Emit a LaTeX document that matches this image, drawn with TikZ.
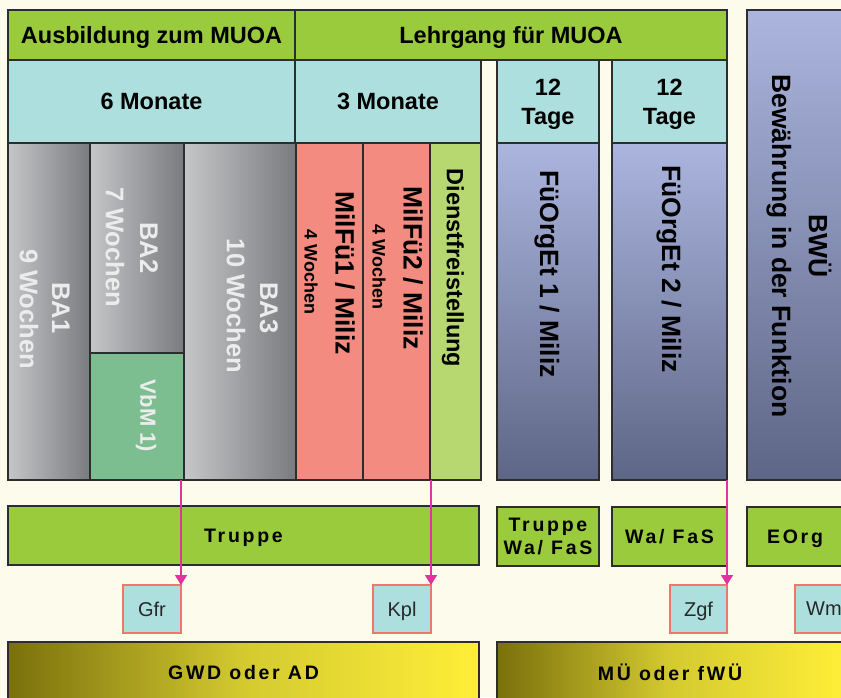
\documentclass[tikz,border=0pt]{standalone}
\usepackage{fontspec}
\setmainfont{Liberation Sans}
\usetikzlibrary{arrows.meta,calc}
\definecolor{bg}{RGB}{253,251,235}
\definecolor{linec}{RGB}{45,45,45}
\definecolor{hgreen}{RGB}{154,203,60}
\definecolor{lcyan}{RGB}{174,223,223}
\definecolor{gL}{RGB}{196,198,200}
\definecolor{gD}{RGB}{122,123,126}
\definecolor{vbmgreen}{RGB}{125,190,145}
\definecolor{salmon}{RGB}{243,139,128}
\definecolor{dgreen}{RGB}{183,216,112}
\definecolor{bT}{RGB}{171,181,222}
\definecolor{bB}{RGB}{94,102,134}
\definecolor{olive}{RGB}{122,112,12}
\definecolor{ymid}{RGB}{212,202,48}
\definecolor{yel}{RGB}{255,238,56}
\definecolor{smallborder}{RGB}{238,118,108}
\definecolor{magarrow}{RGB}{226,50,160}
\definecolor{ltext}{RGB}{236,236,236}
\definecolor{stext}{RGB}{40,40,40}
\begin{document}
\begin{tikzpicture}[x=1pt,y=-1pt,
  cell/.style={draw=linec, line width=1.4pt, inner sep=0pt, outer sep=0pt, anchor=north west, align=center},
  hdr/.style={cell, fill=hgreen, text depth=0pt, font=\bfseries\fontsize{23.5}{27}\selectfont},
  dur/.style={cell, fill=lcyan, text depth=0pt, font=\bfseries\fontsize{23.5}{29}\selectfont},
  bacell/.style={cell, left color=gL, right color=gD},
  focell/.style={cell, top color=bT, bottom color=bB},
  bar/.style={cell, fill=hgreen, text depth=0pt, font=\bfseries\fontsize{19.5}{23}\selectfont\addfontfeature{LetterSpace=14}},
  ybar/.style={cell, left color=olive, right color=yel, middle color=ymid, text depth=0pt, font=\bfseries\fontsize{19.5}{23}\selectfont\addfontfeature{LetterSpace=14}},
  small/.style={cell, draw=smallborder, line width=1.3pt, fill=lcyan, text=stext, text depth=0pt, font=\fontsize{20}{23}\selectfont},
  vlab/.style={rotate=-90, inner sep=0pt, font=\bfseries\fontsize{26.5}{30}\selectfont},
  walab/.style={vlab, text=ltext, font=\bfseries\fontsize{25.5}{30}\selectfont},
  wklab/.style={vlab, font=\bfseries\fontsize{18}{22}\selectfont},
  arr/.style={draw=magarrow, line width=1.6pt, -{Triangle[width=12pt,length=10pt]}}
]
\clip (0,0) rectangle (841,697);
\fill[bg] (0,0) rectangle (841,697);

% header rows
\node[hdr, minimum width=287pt, minimum height=50pt] (hA) at (8,10) {Ausbildung zum MUOA};
\node[hdr, minimum width=432pt, minimum height=50pt] (hB) at (295,10) {Lehrgang für MUOA};
\node[dur, minimum width=287pt, minimum height=83pt] (m6) at (8,60) {6 Monate};
\node[dur, minimum width=186pt, minimum height=83pt] (m3) at (295,60) {3 Monate};
\node[dur, minimum width=102pt, minimum height=83pt] (t1) at (497,60) {12\\Tage};
\node[dur, minimum width=115pt, minimum height=83pt] (t2) at (612,60) {12\\Tage};
\node[focell, minimum width=108pt, minimum height=470pt] (bwu) at (747,10) {};

% columns
\node[bacell, minimum width=82pt, minimum height=337pt] (ba1) at (8,143) {};
\node[bacell, minimum width=94pt, minimum height=210pt] (ba2) at (90,143) {};
\node[cell, fill=vbmgreen, minimum width=94pt, minimum height=127pt] (vbm) at (90,353) {};
\node[bacell, minimum width=112pt, minimum height=337pt] (ba3) at (184,143) {};
\node[cell, fill=salmon, minimum width=67pt, minimum height=337pt] (mf1) at (296,143) {};
\node[cell, fill=salmon, minimum width=67pt, minimum height=337pt] (mf2) at (363,143) {};
\node[cell, fill=dgreen, minimum width=51pt, minimum height=337pt] (dfs) at (430,143) {};
\node[focell, minimum width=102pt, minimum height=337pt] (fo1) at (497,143) {};
\node[focell, minimum width=115pt, minimum height=337pt] (fo2) at (612,143) {};

% rotated labels
\node[walab] (lba1) at (61,308) {BA1};
\node[walab] (lba1w) at (29,309) {9 Wochen};
\node[walab] (lba2) at (149,248) {BA2};
\node[walab] (lba2w) at (115,247) {7 Wochen};
\node[walab] (lba3) at (269,308) {BA3};
\node[walab] (lba3w) at (236,306) {10 Wochen};
\node[vlab, text=ltext, font=\bfseries\fontsize{22}{26}\selectfont] (lvbm) at (146,416) {VbM 1)};
\node[vlab] (lmf1) at (345,273) {MilFü1 / Miliz};
\node[wklab] (lmf1w) at (311,272) {4 Wochen};
\node[vlab] (lmf2) at (413,268) {MilFü2 / Miliz};
\node[wklab] (lmf2w) at (379,267) {4 Wochen};
\node[vlab, font=\bfseries\fontsize{23.5}{27}\selectfont] (ldfs) at (453,268) {Dienstfreistellung};
\node[vlab] (lfo1) at (547,274) {FüOrgEt 1 / Miliz};
\node[vlab] (lfo2) at (669,269) {FüOrgEt 2 / Miliz};
\node[vlab] (lbwu) at (820,246) {BWÜ};
\node[vlab] (lbwuf) at (779,246) {Bewährung in der Funktion};

% bars
\node[bar, minimum width=471pt, minimum height=59pt] (trA) at (8,506) {Truppe};
\node[bar, minimum width=102pt, minimum height=59pt] (trB) at (497,507) {Truppe\\Wa/ FaS};
\node[bar, minimum width=115pt, minimum height=59pt] (trC) at (612,507) {Wa/ FaS};
\node[bar, minimum width=96pt, minimum height=59pt] (trD) at (747,507) {EOrg};

% small boxes
\node[small, minimum width=58pt, minimum height=48pt] (gfr) at (123,585) {Gfr};
\node[small, minimum width=58pt, minimum height=48pt] (kpl) at (373,585) {Kpl};
\node[small, minimum width=57pt, minimum height=48pt] (zgf) at (670,585) {Zgf};
\node[small, minimum width=58pt, minimum height=48pt] (wm) at (795,585) {Wm};

% bottom bars
\node[ybar, minimum width=471pt, minimum height=60pt] (gwd) at (8,642) {GWD oder AD};
\node[ybar, minimum width=346pt, minimum height=60pt] (mue) at (497,642) {MÜ oder fWÜ};

% arrows
\draw[arr] (gfr.north east |- vbm.south) -- (gfr.north east);
\draw[arr] (kpl.north east |- dfs.south) -- (kpl.north east);
\draw[arr] (zgf.north east |- fo2.south) -- (zgf.north east);
\end{tikzpicture}
\end{document}
